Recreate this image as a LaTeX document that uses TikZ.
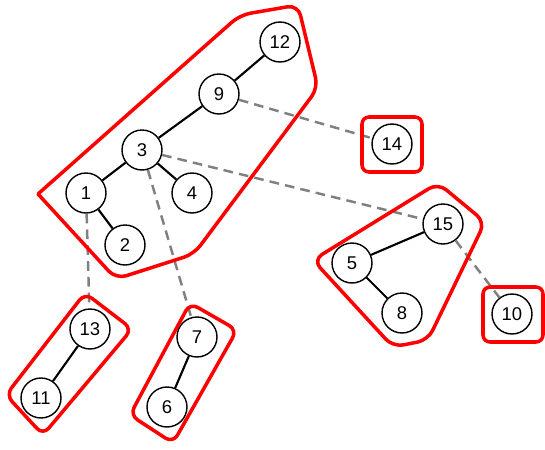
\documentclass[tikz,border=0pt]{standalone}
\usepackage{fontspec}
\setmainfont{Liberation Sans}
\usetikzlibrary{positioning}

\begin{document}
\begin{tikzpicture}[
        x=0.02cm, y=-0.02cm,
        vtx/.style={circle, draw, line width=0.8pt, fill=white, minimum size=0.8cm, inner sep=0pt, font=\fontsize{10.5}{12}\selectfont},
        treeline/.style={line width=1.2pt},
        dashline/.style={line width=1.4pt, gray, dash pattern=on 5.5pt off 3.5pt},
        hull/.style={draw=red, line width=2pt, rounded corners=6pt, line join=round, line cap=round}
    ]
        \useasboundingbox (0,0) rectangle (545,450);

        \node[vtx] (n12) at (280,42) {12};
        \node[vtx] (n9) at (219,94) {9};
        \node[vtx] (n3) at (142,150) {3};
        \node[vtx] (n1) at (86,193) {1};
        \node[vtx] (n4) at (192,193) {4};
        \node[vtx] (n2) at (125,245) {2};
        \node[vtx] (n14) at (392,144) {14};
        \node[vtx] (n15) at (443,224) {15};
        \node[vtx] (n5) at (352,263) {5};
        \node[vtx] (n8) at (402,313) {8};
        \node[vtx] (n10) at (512,314) {10};
        \node[vtx] (n13) at (90,329) {13};
        \node[vtx] (n11) at (41,398) {11};
        \node[vtx] (n7) at (197,337) {7};
        \node[vtx] (n6) at (167,407) {6};

        % tree edges
        \draw[treeline] (n12) -- (n9);
        \draw[treeline] (n9) -- (n3);
        \draw[treeline] (n3) -- (n1);
        \draw[treeline] (n3) -- (n4);
        \draw[treeline] (n1) -- (n2);
        \draw[treeline] (n15) -- (n5);
        \draw[treeline] (n5) -- (n8);
        \draw[treeline] (n13) -- (n11);
        \draw[treeline] (n7) -- (n6);

        % links between clusters
        \draw[dashline] (n9) -- (n14);
        \draw[dashline] (n3) -- (n15);
        \draw[dashline] (n15) -- (n10);
        \draw[dashline] (n1) -- (n13);
        \draw[dashline] (n3) -- (n7);

        % clusters
        \draw[hull] (38,194) -- (116,279) -- (194,254) -- (318,88) -- (298,5) -- (240,15) -- (38,194);
        \draw[hull] (313,260) -- (393,347) -- (428,340) -- (485,222) -- (438,183) -- cycle;
        \draw[hull, rounded corners=4pt] (362,117) rectangle (422,172);
        \draw[hull, rounded corners=4pt] (483,287) rectangle (543,342);
        \draw[hull, rounded corners=5pt] (85,293) -- (132,329) -- (43,435) -- (6,395) -- cycle;
        \draw[hull, rounded corners=5pt] (190,303) -- (237,330) -- (173,443) -- (130,415) -- cycle;
\end{tikzpicture}
\end{document}
